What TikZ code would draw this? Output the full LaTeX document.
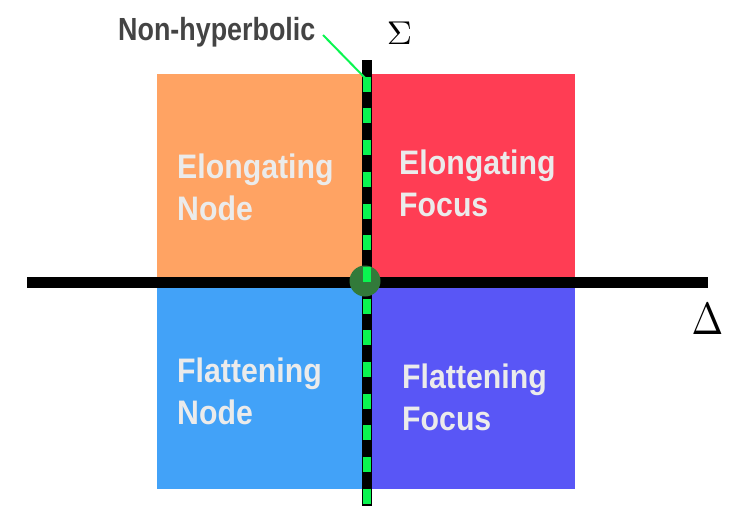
\documentclass[tikz,border=0pt]{standalone}
\usepackage{fontspec}
\newfontfamily\labfont[FakeStretch=0.89]{Liberation Sans}
\newfontfamily\nhfont[FakeStretch=0.84]{Liberation Sans}
\definecolor{qorange}{RGB}{255,163,99}
\definecolor{qred}{RGB}{255,61,84}
\definecolor{qblue}{RGB}{66,162,248}
\definecolor{qpurple}{RGB}{89,86,246}
\definecolor{qgreen}{RGB}{10,245,80}
\definecolor{dotgreen}{RGB}{50,122,58}
\definecolor{labgray}{RGB}{235,235,235}
\definecolor{darkgray}{RGB}{68,68,68}
\tikzset{
  qbox/.style={draw=none, inner sep=0pt, outer sep=0pt, anchor=north west, minimum width=210pt, minimum height=207pt},
  qtext/.style={text=labgray, font=\labfont\bfseries\fontsize{34}{42}\selectfont, align=left, inner sep=0pt, anchor=base west},
  axis/.style={line width=11pt, black},
}
\begin{document}
\begin{tikzpicture}[x=1pt,y=-1pt]
\useasboundingbox (0,0) rectangle (730,506);
% quadrants
\node[qbox, fill=qorange] (qEN) at (157,74) {};
\node[qbox, fill=qred, minimum width=208pt] (qEF) at (367,74) {};
\node[qbox, fill=qblue] (qFN) at (157,282) {};
\node[qbox, fill=qpurple, minimum width=208pt] (qFF) at (367,282) {};
% axes
\coordinate (hL) at (27,282);
\coordinate (hR) at (708,282);
\coordinate (vT) at (367,60);
\coordinate (vB) at (367,506);
\coordinate (gT) at (367,76.7);
\draw[axis] (hL) -- (hR);
\draw[axis, line width=10.6pt] (vT) -- (vB);
\node[circle, fill=dotgreen, minimum size=31pt, inner sep=0pt] (origin) at (365,281) {};
\draw[qgreen, line width=8pt, dash pattern=on 15pt off 16.7pt] (gT) -- (vB);
% labels (anchor = baseline of the last line)
\node[qtext] (tEN) at (177,220) {Elongating\\Node};
\node[qtext] (tEF) at (399,216) {Elongating\\Focus};
\node[qtext] (tFN) at (177,424) {Flattening\\Node};
\node[qtext] (tFF) at (402,430) {Flattening\\Focus};
% non-hyperbolic
\node[text=darkgray, font=\nhfont\bfseries\fontsize{32}{38}\selectfont, inner sep=0pt, anchor=base west] (nh) at (118,40) {Non-hyperbolic};
\coordinate (lead) at (369,82);
\draw[qgreen, line width=2pt] (323,35) -- (lead);
% axis names
\node[inner sep=0pt] (sigma) at (399.5,33) {\scalebox{3.5}[3.3]{$\Sigma$}};
\node[inner sep=0pt] (delta) at (707.5,319.5) {\scalebox{3.8}[4.5]{$\Delta$}};
\end{tikzpicture}
\end{document}
